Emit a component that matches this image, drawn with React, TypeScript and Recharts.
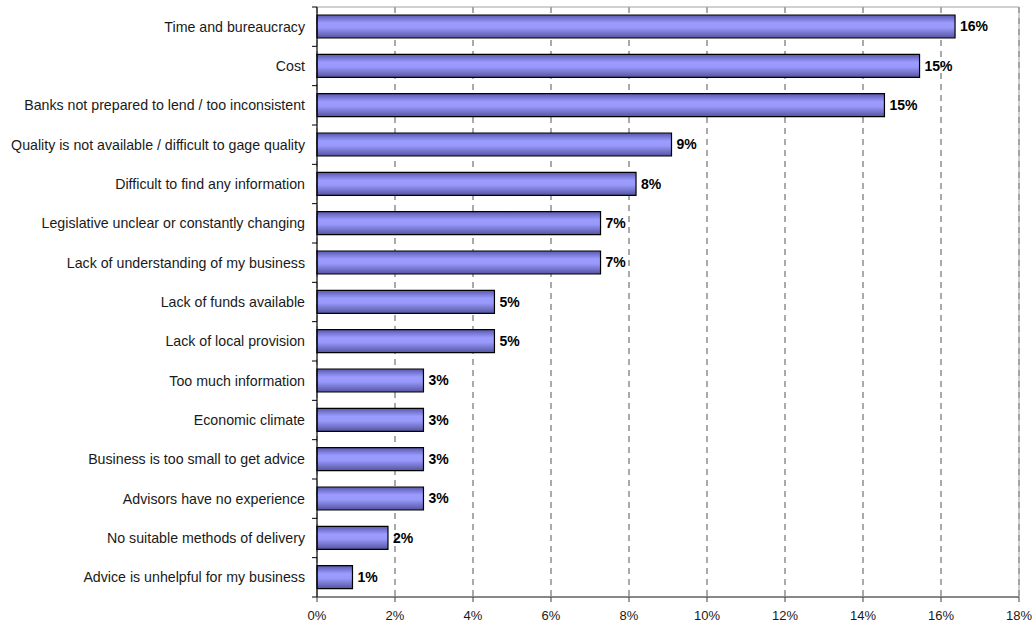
import { BarChart, Bar, XAxis, YAxis, CartesianGrid, LabelList, ReferenceArea } from 'recharts';

const categories = [
  'Time and bureaucracy',
  'Cost',
  'Banks not prepared to lend / too inconsistent',
  'Quality is not available / difficult to gage quality',
  'Difficult to find any information',
  'Legislative unclear or constantly changing',
  'Lack of understanding of my business',
  'Lack of funds available',
  'Lack of local provision',
  'Too much information',
  'Economic climate',
  'Business is too small to get advice',
  'Advisors have no experience',
  'No suitable methods of delivery',
  'Advice is unhelpful for my business',
];

const shares = [16.36, 15.45, 14.55, 9.09, 8.18, 7.27, 7.27, 4.55, 4.55, 2.73, 2.73, 2.73, 2.73, 1.82, 0.91];

const xTicks = [0, 2, 4, 6, 8, 10, 12, 14, 16, 18];

const data = categories.map((name, i) => ({ name, value: shares[i] }));

const WIDTH = 1036;
const HEIGHT = 627;
const PLOT_LEFT = 317;
const PLOT_TOP = 7;
const X_AXIS_H = 30;
const FONT = '"Liberation Sans", Arial, sans-serif';

function CategoryTick(props: any) {
  const { x, y, payload, index } = props;
  const band = (HEIGHT - X_AXIS_H - PLOT_TOP) / categories.length;
  const half = payload && payload.offset ? payload.offset : band / 2;
  return (
    <g>
      <line x1={PLOT_LEFT - 5} x2={PLOT_LEFT} y1={y - half} y2={y - half} stroke="#000" />
      {index === categories.length - 1 && (
        <line x1={PLOT_LEFT - 5} x2={PLOT_LEFT} y1={y + half} y2={y + half} stroke="#000" />
      )}
      <text x={x} y={y} dy="0.35em" textAnchor="end" fontSize={14.2} fill="#1a1a1a" fontFamily={FONT}>
        {payload.value}
      </text>
    </g>
  );
}

export default function App() {
  return (
    <div style={{ position: 'absolute', left: 0, top: 0, fontFamily: FONT, background: '#fff' }}>
      <BarChart
        width={WIDTH}
        height={HEIGHT}
        data={data}
        layout="vertical"
        margin={{ top: PLOT_TOP, right: 17, bottom: 0, left: 0 }}
        barSize={23}
      >
        <defs>
          <linearGradient id="barFill" x1="0" y1="0" x2="0" y2="1">
            <stop offset="0%" stopColor="#5858b0" />
            <stop offset="35%" stopColor="#9c9cff" />
            <stop offset="55%" stopColor="#9999fc" />
            <stop offset="100%" stopColor="#5454a0" />
          </linearGradient>
        </defs>
        <ReferenceArea x1={0} x2={18} fill="none" stroke="#a0a0a0" strokeWidth={1} />
        <CartesianGrid horizontal={false} stroke="#555" strokeDasharray="6 5" />
        <XAxis
          type="number"
          domain={[0, 18]}
          ticks={xTicks}
          tickFormatter={(v: number) => `${v}%`}
          height={X_AXIS_H}
          stroke="#404040"
          tickSize={5}
          tickMargin={9}
          tick={{ fill: '#1a1a1a', fontSize: 13, fontFamily: FONT }}
        />
        <YAxis
          type="category"
          dataKey="name"
          width={PLOT_LEFT}
          stroke="#000"
          tickLine={false}
          tickSize={5}
          tickMargin={7}
          interval={0}
          tick={<CategoryTick />}
        />
        <Bar dataKey="value" fill="url(#barFill)" stroke="#000" strokeWidth={1.2} isAnimationActive={false}>
          <LabelList
            dataKey="value"
            position="right"
            offset={5}
            formatter={(v: number) => `${Math.round(v)}%`}
            style={{ fontWeight: 'bold', fontSize: 14, fill: '#000', fontFamily: FONT }}
          />
        </Bar>
      </BarChart>
    </div>
  );
}
